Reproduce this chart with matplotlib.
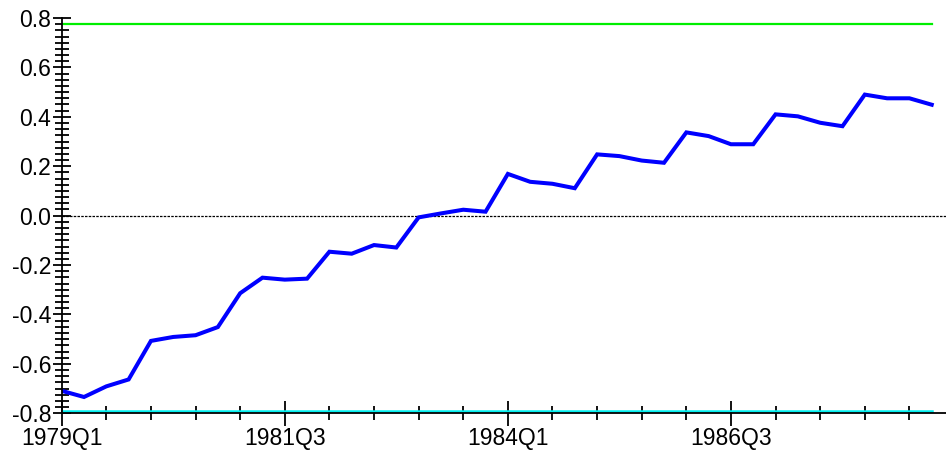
import matplotlib
matplotlib.use("Agg")
import matplotlib.pyplot as plt
from matplotlib.ticker import MultipleLocator, FixedLocator, FixedFormatter
import pandas as pd

plt.rcParams.update({
    "font.family": ["Liberation Sans", "DejaVu Sans"],
    "font.size": 16.5,
    "axes.unicode_minus": False,
})

# quarterly statistic 1979Q1 .. 1988Q4 and its two bounds
quarters = [str(p) for p in pd.period_range("1979Q1", "1988Q4", freq="Q")]
stat = [-0.709, -0.734, -0.691, -0.663, -0.507, -0.491, -0.484, -0.451,
        -0.314, -0.251, -0.259, -0.255, -0.146, -0.154, -0.119, -0.129,
        -0.007, 0.009, 0.024, 0.016, 0.169, 0.137, 0.129, 0.111,
        0.248, 0.241, 0.223, 0.214, 0.337, 0.322, 0.289, 0.289,
        0.410, 0.402, 0.376, 0.362, 0.490, 0.475, 0.475, 0.449]
upper = [0.776] * len(quarters)
lower = [-0.789] * len(quarters)
label_every = 10

W, H = 946, 454
fig = plt.figure(figsize=(W / 100, H / 100), dpi=100)
ax = fig.add_axes([61.7 / W, (H - 413.3) / H, 1 - 61.7 / W, (413.3 - 18) / H])

x = range(len(quarters))
ax.plot(x, upper, color="#00ee00", lw=1.6)
ax.plot(x, lower, color="#00eeee", lw=1.8)
ax.axhline(0, color="black", lw=0.9, ls=(0, (2, 1)))
ax.plot(x, stat, color="#0000ff", lw=2.9, solid_joinstyle="miter")

ax.set_xlim(0, 39.64)
ax.set_ylim(-0.8, 0.8)

ax.xaxis.set_major_locator(FixedLocator(list(range(0, len(quarters), label_every))))
ax.xaxis.set_major_formatter(FixedFormatter(quarters[::label_every]))
ax.xaxis.set_minor_locator(MultipleLocator(2))
ax.yaxis.set_major_locator(MultipleLocator(0.2))
ax.yaxis.set_minor_locator(MultipleLocator(0.025))
ax.yaxis.set_major_formatter(matplotlib.ticker.FormatStrFormatter("%.1f"))

ax.tick_params(axis="both", which="major", direction="inout", length=13,
               width=1.3, color="black")
ax.tick_params(axis="both", which="minor", direction="inout", length=10,
               width=1.3, color="black")
ax.tick_params(axis="x", which="major", length=18, pad=1)
ax.tick_params(axis="y", which="major", pad=1)

for s in ("top", "right"):
    ax.spines[s].set_visible(False)
for s in ("left", "bottom"):
    ax.spines[s].set_linewidth(1.3)

fig.savefig("out.png", dpi=100)
